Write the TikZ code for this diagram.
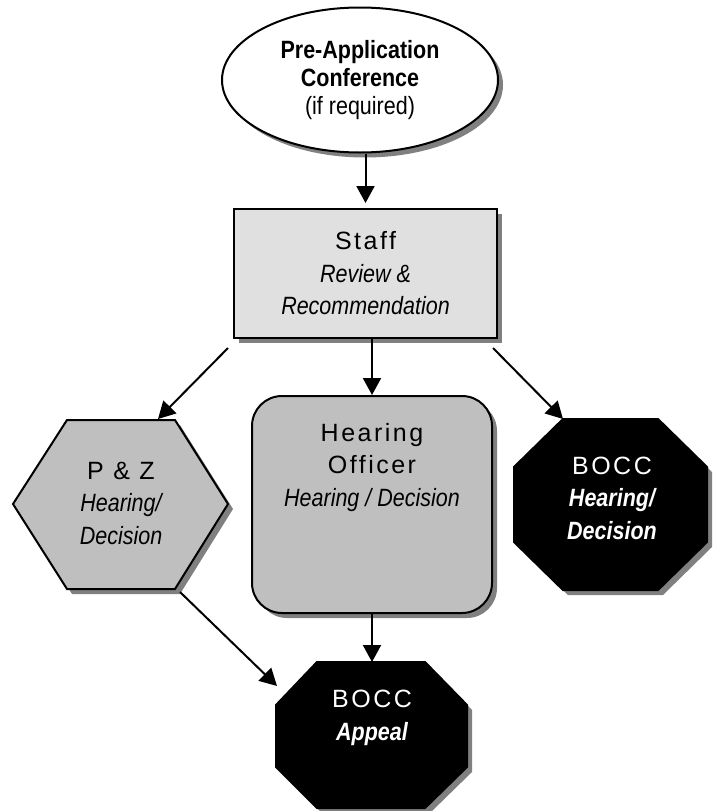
\documentclass[tikz,border=0pt]{standalone}
\usepackage{fontspec}
\setmainfont{Liberation Sans}
\newfontfamily\namefont[LetterSpace=10]{Liberation Sans}
\newfontfamily\notefont[FakeStretch=0.86]{Liberation Sans}
\usetikzlibrary{shapes.geometric,positioning,shadows,arrows.meta}

\newcommand\titletext[1]{{\namefont #1}}
\newcommand\notetext[1]{{\notefont\itshape #1}}
\newcommand\boldnote[1]{{\notefont\bfseries #1}}

\begin{document}
\begin{tikzpicture}[x=1pt,y=-1pt]
\tikzstyle{shadowed}=[drop shadow={shadow xshift=5pt,shadow yshift=-5pt,fill=black!50,opacity=1}]
\tikzstyle{frame}=[draw,line width=2pt,shadowed]
\tikzstyle{flow}=[line width=2pt,-{Triangle[length=17pt,width=18pt]}]
\tikzstyle{txt}=[align=center,inner sep=0pt,font=\fontsize{25}{32.5}\selectfont]

\useasboundingbox (0,0) rectangle (713,811);

% conference and staff review
\node[frame,ellipse,fill=white,minimum width=276pt,minimum height=145pt,txt,font=\fontsize{25}{28}\selectfont] (pre) at (360,80)
  {\boldnote{Pre-Application}\\\boldnote{Conference}\\{\notefont (if required)}};
\node[frame,fill=black!12,minimum width=263pt,minimum height=129pt,txt] (staff) at (365.5,273.5)
  {\titletext{Staff}\\\notetext{Review \&}\\\notetext{Recommendation}};

% the three hearing bodies
\draw[frame,fill=black!25] (13,504) -- (67,420) -- (175,420) -- (228,504) -- (175,589) -- (67,589) -- cycle;
\node[txt] (pz) at (121,503) {\titletext{P \& Z}\\\notetext{Hearing/}\\\notetext{Decision}};

\node[frame,fill=black!25,rounded corners=30pt,minimum width=240pt,minimum height=217pt] (hear) at (372,504.5) {};
\node[txt,below=28pt of hear.north] (officer) {\titletext{Hearing}\\\titletext{Officer}\\\notetext{Hearing / Decision}};

\draw[frame,fill=black] (563,419) -- (658,419) -- (707,467) -- (707,542) -- (658,590) -- (563,590) -- (514,542) -- (514,467) -- cycle;
\node[txt,text=white] (bocc) at (612,498) {\titletext{BOCC}\\{\notefont\bfseries\itshape Hearing/}\\{\notefont\bfseries\itshape Decision}};

% appeal
\draw[frame,fill=black] (317,662) -- (425,662) -- (467,705) -- (467,767) -- (425,808) -- (317,808) -- (276,767) -- (276,705) -- cycle;
\node[txt,text=white] (appeal) at (372,718) {\titletext{BOCC}\\{\notefont\bfseries\itshape Appeal}};

\coordinate (staff-sw) at (228,348);
\coordinate (staff-se) at (493,348);
\coordinate (pz-in) at (158,419);
\coordinate (pz-out) at (180,592);
\coordinate (bocc-in) at (563,419);
\coordinate (appeal-in) at (277,686);
\coordinate (appeal-top) at (372,662);

\draw[flow,shorten >=5pt] (pre.south -| staff.north) -- (staff.north);
\draw[flow] (staff-sw) -- (pz-in);
\draw[flow] (staff.south -| hear.north) -- (hear.north);
\draw[flow] (staff-se) -- (bocc-in);
\draw[flow] (pz-out) -- (appeal-in);
\draw[flow] (hear.south) -- (appeal-top);
\end{tikzpicture}
\end{document}
